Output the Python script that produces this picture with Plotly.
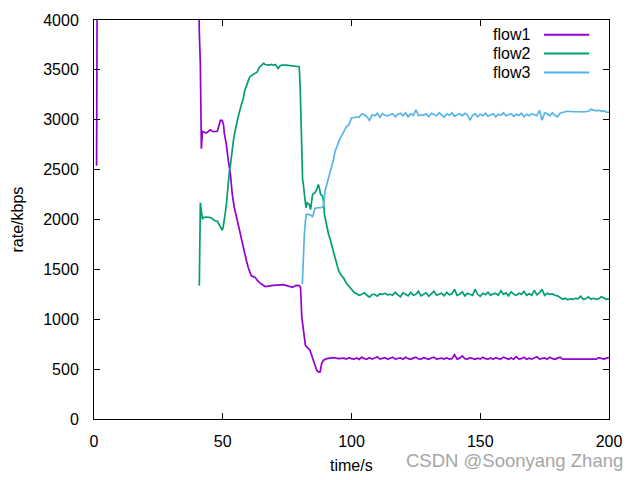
import plotly.graph_objects as go

# ---------------- data ----------------
flow1_t_early = [1.0, 1.15, 1.3, 40.3, 40.6, 40.9, 41.3, 41.7, 42.1, 43.6, 45.2, 46.3, 47.9,
                 48.6, 49.1, 49.8, 50.3, 50.6, 51.4, 52.2, 53.0, 53.7, 54.5, 55.7, 56.8, 58.0,
                 59.2, 59.9, 61.1, 62.6, 63.5, 65.0, 66.5, 69.6, 73.5, 77.1, 78.5, 79.7, 80.2,
                 80.7, 81.3, 82.1, 83.9, 85.2, 86.5, 87.1, 87.8, 88.4, 89.1, 90.4, 92.9, 95]
flow1_v_early = [2540, 3270, 4900, 4900, 3950, 3880, 3550, 2710, 2883, 2866, 2900, 2880, 2885,
                 2950, 2993, 2993, 2949, 2866, 2750, 2584, 2451, 2251, 2118, 1985, 1852, 1719,
                 1586, 1519, 1436, 1420, 1387, 1353, 1327, 1340, 1347, 1320, 1340, 1337, 1320,
                 1021, 888, 738, 688, 589, 489, 472, 472, 555, 589, 605, 615, 605]

flow2_t_early = [40.9, 41.0, 41.1, 41.3, 41.7, 42.1, 42.5, 43.6, 45.2, 46.3, 47.1, 47.9, 48.6,
                 49.4, 49.8, 50.2, 50.6, 51.0, 51.4, 51.8, 52.2, 52.6, 53.0, 53.4, 53.7, 54.1,
                 54.5, 55.0, 55.3, 55.7, 56.1, 56.4, 56.8, 57.2, 57.6, 58.0, 58.4, 58.8, 59.2,
                 59.6, 60.3, 60.7, 61.5, 62.3, 62.6, 63.4, 64.2, 65.0, 65.8, 66.5, 68.1, 68.9,
                 69.6, 70.4, 71.1, 71.5, 72.3, 73.0, 74.6, 76.9, 78.5, 79.7, 80.1, 80.5, 81.0,
                 81.3, 81.9, 82.3, 82.8, 83.6, 84.1, 84.5, 84.9, 85.8, 86.5, 87.1, 87.5, 88.0,
                 88.8, 89.1, 89.5, 90.0, 90.6, 91.1, 91.7, 92.3, 93.0, 93.6, 94.3, 95.0]
flow2_v_early = [1337, 1553, 1952, 2168, 2085, 2002, 2019, 2025, 2019, 2002, 1985, 1985, 1952,
                 1918, 1892, 1930, 1985, 2068, 2151, 2284, 2384, 2484, 2550, 2650, 2716, 2783,
                 2850, 2900, 2949, 3000, 3049, 3083, 3116, 3149, 3182, 3215, 3282, 3315, 3348,
                 3382, 3420, 3435, 3448, 3462, 3468, 3480, 3524, 3540, 3565, 3554, 3547, 3554,
                 3547, 3554, 3531, 3514, 3541, 3547, 3547, 3541, 3531, 3531, 3298, 2819, 2400,
                 2351, 2185, 2118, 2168, 2151, 2101, 2218, 2251, 2268, 2301, 2351, 2318, 2251,
                 2234, 2185, 2052, 1985, 1902, 1850, 1802, 1752, 1686, 1619, 1553, 1486]

flow3_t_early = [80.9, 81.3, 81.7, 82.1, 82.5, 83.1, 84.1, 84.9, 85.2, 85.8, 87.1, 88.4, 89.1,
                 89.3, 89.7, 90.4, 91.1, 91.7, 92.3, 93.0, 93.6, 94.5, 95.2]
flow3_v_early = [1353, 1652, 1852, 1985, 2052, 2052, 2045, 2029, 2062, 2112, 2118, 2118, 2135,
                 2218, 2284, 2351, 2417, 2467, 2534, 2600, 2683, 2750, 2790]

steady_t = list(range(96, 201))

flow1_steady = [605, 610, 600, 615, 605, 600, 612, 598, 620, 605,
                600, 615, 600, 610, 625, 600, 605, 615, 598, 610,
                620, 600, 605, 612, 600, 618, 605, 598, 610, 620,
                602, 600, 615, 605, 598, 612, 620, 600, 605, 610,
                600, 615, 600, 605, 645, 600, 610, 632, 605, 600,
                615, 605, 598, 610, 600, 620, 605, 600, 612, 598,
                615, 605, 600, 620, 605, 598, 612, 600, 625, 600,
                605, 618, 598, 610, 600, 615, 625, 600, 605, 612,
                600, 620, 605, 598, 610, 620, 600, 600, 600, 600,
                600, 602, 600, 600, 603, 600, 600, 605, 600, 600,
                615, 605, 600, 610, 615]

flow2_steady = [1440, 1410, 1360, 1330, 1290, 1270, 1255, 1240, 1250, 1265,
                1240, 1222, 1248, 1250, 1232, 1255, 1250, 1260, 1245, 1250,
                1240, 1270, 1245, 1225, 1265, 1250, 1235, 1270, 1240, 1250,
                1280, 1235, 1250, 1265, 1230, 1255, 1280, 1240, 1250, 1260,
                1235, 1270, 1245, 1255, 1300, 1240, 1250, 1275, 1235, 1260,
                1250, 1240, 1300, 1250, 1230, 1260, 1245, 1270, 1240, 1255,
                1260, 1240, 1285, 1250, 1265, 1235, 1275, 1250, 1240, 1260,
                1250, 1280, 1240, 1255, 1240, 1290, 1245, 1265, 1300, 1240,
                1260, 1250, 1255, 1240, 1235, 1215, 1200, 1210, 1195, 1205,
                1200, 1210, 1205, 1230, 1200, 1205, 1225, 1200, 1210, 1200,
                1205, 1225, 1210, 1200, 1205]

flow3_steady = [2830, 2880, 2930, 2950, 3020, 3020, 3030, 3025, 3060, 3050,
                3030, 2995, 3050, 3040, 3065, 3025, 3060, 3045, 3040, 3050,
                3060, 3030, 3055, 3065, 3040, 3070, 3030, 3060, 3045, 3100,
                3040, 3050, 3045, 3060, 3030, 3065, 3055, 3040, 3070, 3050,
                3025, 3060, 3045, 3070, 3035, 3050, 3060, 3040, 3065, 3050,
                2995, 3045, 3060, 3030, 3055, 3040, 3065, 3035, 3050, 3060,
                3030, 3055, 3045, 3070, 3040, 3050, 3060, 3035, 3055, 3045,
                3065, 3030, 3055, 3040, 3060, 3050, 3040, 3095, 2995, 3070,
                3060, 3040, 3070, 3045, 3030, 3065, 3075, 3080, 3085, 3080,
                3080, 3080, 3082, 3080, 3078, 3080, 3085, 3105, 3095, 3090,
                3095, 3085, 3090, 3075, 3075]

series_names = ["flow1", "flow2", "flow3"]
series_colors = ["#9400D3", "#009E73", "#56B4E9"]
x_ticks = [0, 50, 100, 150, 200]
y_ticks = [0, 500, 1000, 1500, 2000, 2500, 3000, 3500, 4000]

series_t = [flow1_t_early + steady_t, flow2_t_early + steady_t, flow3_t_early + steady_t]
series_v = [flow1_v_early + flow1_steady, flow2_v_early + flow2_steady, flow3_v_early + flow3_steady]

# ---------------- figure ----------------
FONT = "Liberation Sans, Arial, sans-serif"
FS = 16
fig = go.Figure()
for name, color, t, v in zip(series_names, series_colors, series_t, series_v):
    fig.add_trace(go.Scatter(x=t, y=v, mode="lines", name=name,
                             line=dict(color=color, width=1.7), showlegend=False))

axis_common = dict(showline=True, linecolor="black", linewidth=1, mirror="allticks",
                   ticks="inside", ticklen=6, tickwidth=1, tickcolor="black",
                   showgrid=False, zeroline=False,
                   tickfont=dict(family=FONT, size=FS, color="black"))
fig.update_xaxes(range=[0, 200], tickvals=x_ticks, ticklabelstandoff=8, **axis_common)
fig.update_yaxes(range=[0, 4000], tickvals=y_ticks, ticklabelstandoff=11, **axis_common)

# custom gnuplot-style legend (text then line sample)
leg_y = [0.9633, 0.916, 0.8686]
for name, color, yy in zip(series_names, series_colors, leg_y):
    fig.add_annotation(xref="paper", yref="paper", x=0.850, y=yy, text=name,
                       showarrow=False, xanchor="right", yanchor="middle",
                       font=dict(family=FONT, size=FS, color="black"))
    fig.add_shape(type="line", xref="paper", yref="paper", x0=0.8738, x1=0.9617,
                  y0=yy, y1=yy, line=dict(color=color, width=2))

# axis titles
fig.add_annotation(xref="paper", yref="paper", x=0.5, y=-0.117, text="time/s",
                   showarrow=False, xanchor="center", yanchor="middle",
                   font=dict(family=FONT, size=FS, color="black"))
fig.add_annotation(xref="paper", yref="paper", x=-0.1495, y=0.5, text="rate/kbps",
                   showarrow=False, xanchor="center", yanchor="middle", textangle=-90,
                   font=dict(family=FONT, size=FS, color="black"))

# watermark
fig.add_annotation(xref="paper", yref="paper", x=1.031, y=-0.1047,
                   text="CSDN @Soonyang Zhang", showarrow=False,
                   xanchor="right", yanchor="middle",
                   font=dict(family=FONT, size=18.5, color="#a6a6a6"))

fig.update_layout(width=640, height=480, plot_bgcolor="white", paper_bgcolor="white",
                  margin=dict(l=94, r=31, t=18, b=61), showlegend=False)

fig.write_html("out.html")
